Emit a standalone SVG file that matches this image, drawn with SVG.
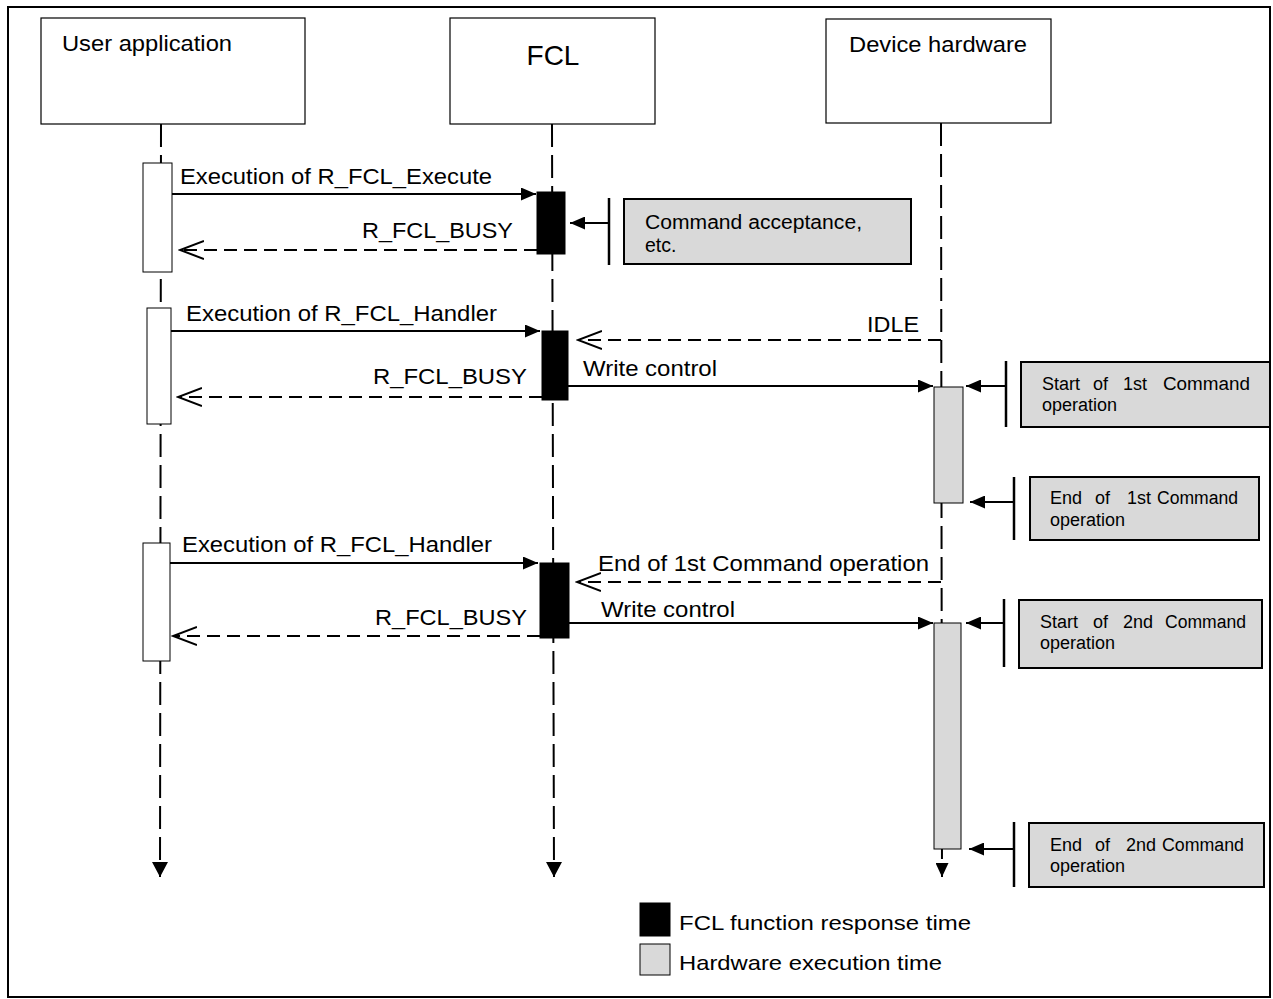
<svg xmlns="http://www.w3.org/2000/svg" width="1273" height="999" viewBox="0 0 1273 999">
  <style>
    text { font-family: "Liberation Sans", Arial, sans-serif; fill: #000; }
    .lbl { font-size: 22px; }
    .hdr { font-size: 22px; }
    .note { font-size: 18px; }
    .leg { font-size: 21px; }
    .head { fill: #fff; stroke: #000; stroke-width: 1.2; }
    .life { stroke: #000; stroke-width: 2; stroke-dasharray: 23 8; fill: none; }
    .call { stroke: #000; stroke-width: 2; fill: none; }
    .ret { stroke: #000; stroke-width: 2; stroke-dasharray: 13 7; fill: none; }
    .actU { fill: #fff; stroke: #000; stroke-width: 1; }
    .actF { fill: #000; stroke: #000; stroke-width: 1; }
    .actH { fill: #d9d9d9; stroke: #000; stroke-width: 1; }
    .nbox { fill: #d9d9d9; stroke: #000; stroke-width: 2; }
    .bar { stroke: #000; stroke-width: 2.5; }
  </style>
  <defs>
    <marker id="solid" viewBox="0 0 15 13" refX="15" refY="6.5" markerWidth="15" markerHeight="13" markerUnits="userSpaceOnUse" orient="auto">
      <path d="M0,0 L15,6.5 L0,13 z" fill="#000"/>
    </marker>
    <marker id="open" viewBox="0 0 26 20" refX="24" refY="10" markerWidth="26" markerHeight="20" markerUnits="userSpaceOnUse" orient="auto">
      <path d="M0,1 L24,10 L0,19" fill="none" stroke="#000" stroke-width="2"/>
    </marker>
    <marker id="down" viewBox="0 0 16 15" refX="8" refY="15" markerWidth="16" markerHeight="15" markerUnits="userSpaceOnUse" orient="0">
      <path d="M0,0 L16,0 L8,15 z" fill="#000"/>
    </marker>
    <marker id="downS" viewBox="0 0 13 14" refX="6.5" refY="14" markerWidth="13" markerHeight="14" markerUnits="userSpaceOnUse" orient="0">
      <path d="M0,0 L13,0 L6.5,14 z" fill="#000"/>
    </marker>
  </defs>

  <!-- outer frame -->
  <rect x="8" y="7" width="1262" height="990" fill="#fff" stroke="#000" stroke-width="2"/>

  <!-- participants -->
  <g id="user-application">
    <rect class="head" x="41" y="18" width="264" height="106"/>
    <text class="hdr" x="62" y="51" textLength="170" lengthAdjust="spacingAndGlyphs">User application</text>
  </g>
  <g id="fcl">
    <rect class="head" x="450" y="18" width="205" height="106"/>
    <text x="553" y="65" font-size="28" text-anchor="middle">FCL</text>
  </g>
  <g id="device-hardware">
    <rect class="head" x="826" y="19" width="225" height="104"/>
    <text class="hdr" x="849" y="52" textLength="178" lengthAdjust="spacingAndGlyphs">Device hardware</text>
  </g>

  <!-- connectors -->
  <g id="connectors">
    <!-- lifelines -->
    <line class="life" x1="161" y1="124" x2="160" y2="877" marker-end="url(#down)"/>
    <line class="life" x1="552" y1="124" x2="554" y2="877" marker-end="url(#down)"/>
    <line class="life" x1="941" y1="123" x2="942" y2="877" marker-end="url(#downS)"/>

    <!-- first call -->
    <line class="call" x1="172" y1="194" x2="536" y2="194" marker-end="url(#solid)"/>
    <text class="lbl" x="180" y="184" textLength="312" lengthAdjust="spacingAndGlyphs">Execution of R_FCL_Execute</text>
    <line class="ret" x1="537" y1="250" x2="180" y2="250" marker-end="url(#open)"/>
    <text class="lbl" x="362" y="238" textLength="151" lengthAdjust="spacingAndGlyphs">R_FCL_BUSY</text>

    <!-- second call -->
    <line class="call" x1="171" y1="331" x2="540" y2="331" marker-end="url(#solid)"/>
    <text class="lbl" x="186" y="321" textLength="311" lengthAdjust="spacingAndGlyphs">Execution of R_FCL_Handler</text>
    <line class="ret" x1="941" y1="340" x2="578" y2="340" marker-end="url(#open)"/>
    <text class="lbl" x="867" y="332" textLength="52" lengthAdjust="spacingAndGlyphs">IDLE</text>
    <line class="call" x1="568" y1="386" x2="933" y2="386" marker-end="url(#solid)"/>
    <text class="lbl" x="583" y="376" textLength="134" lengthAdjust="spacingAndGlyphs">Write control</text>
    <line class="ret" x1="542" y1="397" x2="178" y2="397" marker-end="url(#open)"/>
    <text class="lbl" x="373" y="384" textLength="154" lengthAdjust="spacingAndGlyphs">R_FCL_BUSY</text>

    <!-- third call -->
    <line class="call" x1="170" y1="563" x2="538" y2="563" marker-end="url(#solid)"/>
    <text class="lbl" x="182" y="552" textLength="310" lengthAdjust="spacingAndGlyphs">Execution of R_FCL_Handler</text>
    <line class="ret" x1="941" y1="582" x2="577" y2="582" marker-end="url(#open)"/>
    <text class="lbl" x="598" y="571" textLength="331" lengthAdjust="spacingAndGlyphs">End of 1st Command operation</text>
    <line class="call" x1="569" y1="623" x2="933" y2="623" marker-end="url(#solid)"/>
    <text class="lbl" x="601" y="617" textLength="134" lengthAdjust="spacingAndGlyphs">Write control</text>
    <line class="ret" x1="540" y1="636" x2="173" y2="636" marker-end="url(#open)"/>
    <text class="lbl" x="375" y="625" textLength="152" lengthAdjust="spacingAndGlyphs">R_FCL_BUSY</text>

    <!-- note pointers -->
    <line class="call" x1="609" y1="223" x2="570" y2="223" marker-end="url(#solid)"/>
    <line class="call" x1="1006" y1="386" x2="966" y2="386" marker-end="url(#solid)"/>
    <line class="call" x1="1014" y1="502" x2="970" y2="502" marker-end="url(#solid)"/>
    <line class="call" x1="1004" y1="623" x2="966" y2="623" marker-end="url(#solid)"/>
    <line class="call" x1="1014" y1="849" x2="969" y2="849" marker-end="url(#solid)"/>
  </g>

  <!-- activations -->
  <g id="user-activations">
    <rect class="actU" x="143" y="163" width="29" height="109"/>
    <rect class="actU" x="147" y="308" width="24" height="116"/>
    <rect class="actU" x="143" y="543" width="27" height="118"/>
  </g>
  <g id="fcl-activations">
    <rect class="actF" x="537" y="192" width="28" height="62"/>
    <rect class="actF" x="542" y="331" width="26" height="69"/>
    <rect class="actF" x="540" y="563" width="29" height="75"/>
  </g>
  <g id="hardware-activations">
    <rect class="actH" x="934" y="387" width="29" height="116"/>
    <rect class="actH" x="934" y="623" width="27" height="226"/>
  </g>

  <!-- notes -->
  <g id="note-acceptance">
    <line class="bar" x1="609" y1="198" x2="609" y2="265"/>
    <rect class="nbox" x="624" y="199" width="287" height="65"/>
    <text x="645" y="229" font-size="19.5" textLength="217" lengthAdjust="spacingAndGlyphs">Command acceptance,</text>
    <text x="645" y="252" font-size="19.5">etc.</text>
  </g>
  <g id="note-start-1">
    <line class="bar" x1="1006" y1="361" x2="1006" y2="427"/>
    <rect class="nbox" x="1021" y="362" width="249" height="65"/>
    <text class="note"><tspan x="1042" y="390">Start</tspan><tspan x="1093" y="390">of</tspan><tspan x="1123" y="390">1st</tspan><tspan x="1163" y="390" textLength="87" lengthAdjust="spacingAndGlyphs">Command</tspan></text>
    <text class="note" x="1042" y="411">operation</text>
  </g>
  <g id="note-end-1">
    <line class="bar" x1="1014" y1="477" x2="1014" y2="540"/>
    <rect class="nbox" x="1030" y="477" width="229" height="63"/>
    <text class="note"><tspan x="1050" y="504">End</tspan><tspan x="1095" y="504">of</tspan><tspan x="1127" y="504">1st</tspan><tspan x="1157" y="504" textLength="81" lengthAdjust="spacingAndGlyphs">Command</tspan></text>
    <text class="note" x="1050" y="526">operation</text>
  </g>
  <g id="note-start-2">
    <line class="bar" x1="1004" y1="599" x2="1004" y2="667"/>
    <rect class="nbox" x="1019" y="600" width="243" height="68"/>
    <text class="note"><tspan x="1040" y="628">Start</tspan><tspan x="1093" y="628">of</tspan><tspan x="1123" y="628">2nd</tspan><tspan x="1165" y="628" textLength="81" lengthAdjust="spacingAndGlyphs">Command</tspan></text>
    <text class="note" x="1040" y="649">operation</text>
  </g>
  <g id="note-end-2">
    <line class="bar" x1="1014" y1="822" x2="1014" y2="887"/>
    <rect class="nbox" x="1029" y="823" width="235" height="64"/>
    <text class="note"><tspan x="1050" y="851">End</tspan><tspan x="1095" y="851">of</tspan><tspan x="1126" y="851">2nd</tspan><tspan x="1162" y="851" textLength="82" lengthAdjust="spacingAndGlyphs">Command</tspan></text>
    <text class="note" x="1050" y="872">operation</text>
  </g>

  <!-- legend -->
  <g id="legend">
    <rect x="640" y="903" width="30" height="33" fill="#000" stroke="#000" stroke-width="1"/>
    <text class="leg" x="679" y="930" textLength="292" lengthAdjust="spacingAndGlyphs">FCL function response time</text>
    <rect x="640" y="944" width="30" height="31" fill="#d9d9d9" stroke="#000" stroke-width="1"/>
    <text class="leg" x="679" y="970" textLength="263" lengthAdjust="spacingAndGlyphs">Hardware execution time</text>
  </g>
</svg>
